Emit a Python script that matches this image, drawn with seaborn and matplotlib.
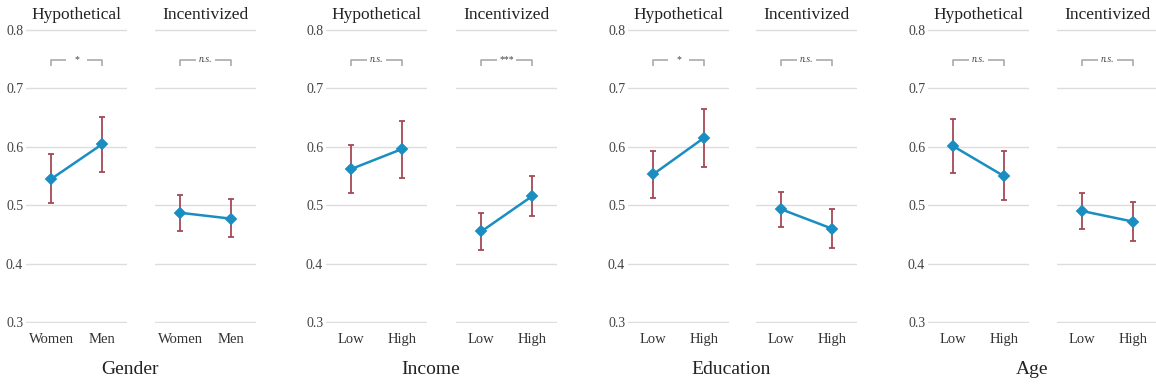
import numpy as np
import pandas as pd
import matplotlib
matplotlib.use('Agg')
import matplotlib.pyplot as plt
import seaborn as sns

sns.set_theme(style='white')
plt.rcParams['font.family'] = ['Liberation Serif', 'DejaVu Serif']

# data
groups = ['Gender', 'Income', 'Education', 'Age']
group_levels = [['Women', 'Men'], ['Low', 'High'], ['Low', 'High'], ['Low', 'High']]
conditions = ['Hypothetical', 'Incentivized']

hyp_mean = [[0.545, 0.604], [0.562, 0.596], [0.553, 0.615], [0.601, 0.550]]
hyp_lo = [[0.504, 0.556], [0.521, 0.547], [0.513, 0.566], [0.555, 0.509]]
hyp_hi = [[0.587, 0.651], [0.603, 0.645], [0.592, 0.665], [0.648, 0.593]]

inc_mean = [[0.487, 0.477], [0.455, 0.515], [0.493, 0.460], [0.490, 0.472]]
inc_lo = [[0.456, 0.445], [0.424, 0.481], [0.463, 0.426], [0.459, 0.439]]
inc_hi = [[0.518, 0.510], [0.487, 0.550], [0.522, 0.494], [0.521, 0.505]]

sig_hyp = ['*', 'n.s.', '*', 'n.s.']
sig_inc = ['n.s.', '***', 'n.s.', 'n.s.']

# long table
rows = []
for gi, g in enumerate(groups):
    for cond, m, lo, hi, sig in [('Hypothetical', hyp_mean, hyp_lo, hyp_hi, sig_hyp),
                                 ('Incentivized', inc_mean, inc_lo, inc_hi, sig_inc)]:
        for li, lev in enumerate(group_levels[gi]):
            rows.append(dict(group=g, condition=cond, level=lev, mean=m[gi][li],
                             lo=lo[gi][li], hi=hi[gi][li], sig=sig[gi]))
df = pd.DataFrame(rows)

LINE = '#1a8ec1'
ERR = '#a44a56'
GRID = '#dddddd'
TXT = '#222222'

W, H = 1156, 386
fig = plt.figure(figsize=(W / 100, H / 100), dpi=100)

lefts = [26, 155, 326, 456, 628, 756, 928, 1057]
ax_w = 101
ax_top, ax_bot = 30, 322

k = 0
for gi, g in enumerate(groups):
    for ci, cond in enumerate(conditions):
        left = lefts[k]
        k += 1
        ax = fig.add_axes([left / W, 1 - (ax_bot + 1) / H, ax_w / W, (ax_bot - ax_top + 2) / H])
        sub = df[(df.group == g) & (df.condition == cond)]
        levels = group_levels[gi]

        ax.errorbar(x=[0, 1], y=sub['mean'].values,
                    yerr=[sub['mean'].values - sub['lo'].values, sub['hi'].values - sub['mean'].values],
                    fmt='none', ecolor=ERR, elinewidth=1.3, capsize=2, capthick=1.3, zorder=1)
        sns.pointplot(data=sub, x='level', y='mean', order=levels, color=LINE,
                      markers='D', errorbar=None, ax=ax, markersize=5.5, linewidth=1.8)

        # significance bracket
        sig = sub['sig'].iloc[0]
        gap = 0.36 if sig != '*' else 0.4
        yb, ye = 0.749, 0.738
        ax.plot([0, 0, 0.5 - gap / 2], [ye, yb, yb], color='#aaaaaa', lw=1.2, solid_capstyle='butt')
        ax.plot([0.5 + gap / 2, 1, 1], [yb, yb, ye], color='#aaaaaa', lw=1.2, solid_capstyle='butt')
        ax.text(0.5, yb + 0.001, sig, ha='center', va='center', fontsize=7, color='#444444',
                style='italic' if sig == 'n.s.' else 'normal')

        ax.set_xlim(-0.5, 1.5)
        ax.set_ylim(0.2983, 0.8017)
        ax.set_yticks([0.3, 0.4, 0.5, 0.6, 0.7, 0.8])
        ax.yaxis.grid(True, color=GRID, lw=1)
        ax.xaxis.grid(False)
        ax.set_axisbelow(True)
        for s in ax.spines.values():
            s.set_visible(False)
        ax.set_xlabel('')
        ax.set_ylabel('')
        ax.tick_params(axis='x', length=0, pad=7, labelsize=10.5, labelcolor='#333333')
        ax.tick_params(axis='y', length=0, pad=2, labelsize=10, labelcolor='#444444')
        if ci == 1:
            ax.set_yticklabels([])
        ax.set_title(cond, fontsize=12.5, color=TXT, pad=7)

    cx = (lefts[2 * gi] + lefts[2 * gi + 1] + ax_w) / 2 - 11
    fig.text(cx / W, 1 - 369 / H, g, ha='center', va='center', fontsize=14, color=TXT)

fig.savefig('out.png', dpi=100, facecolor='white')
